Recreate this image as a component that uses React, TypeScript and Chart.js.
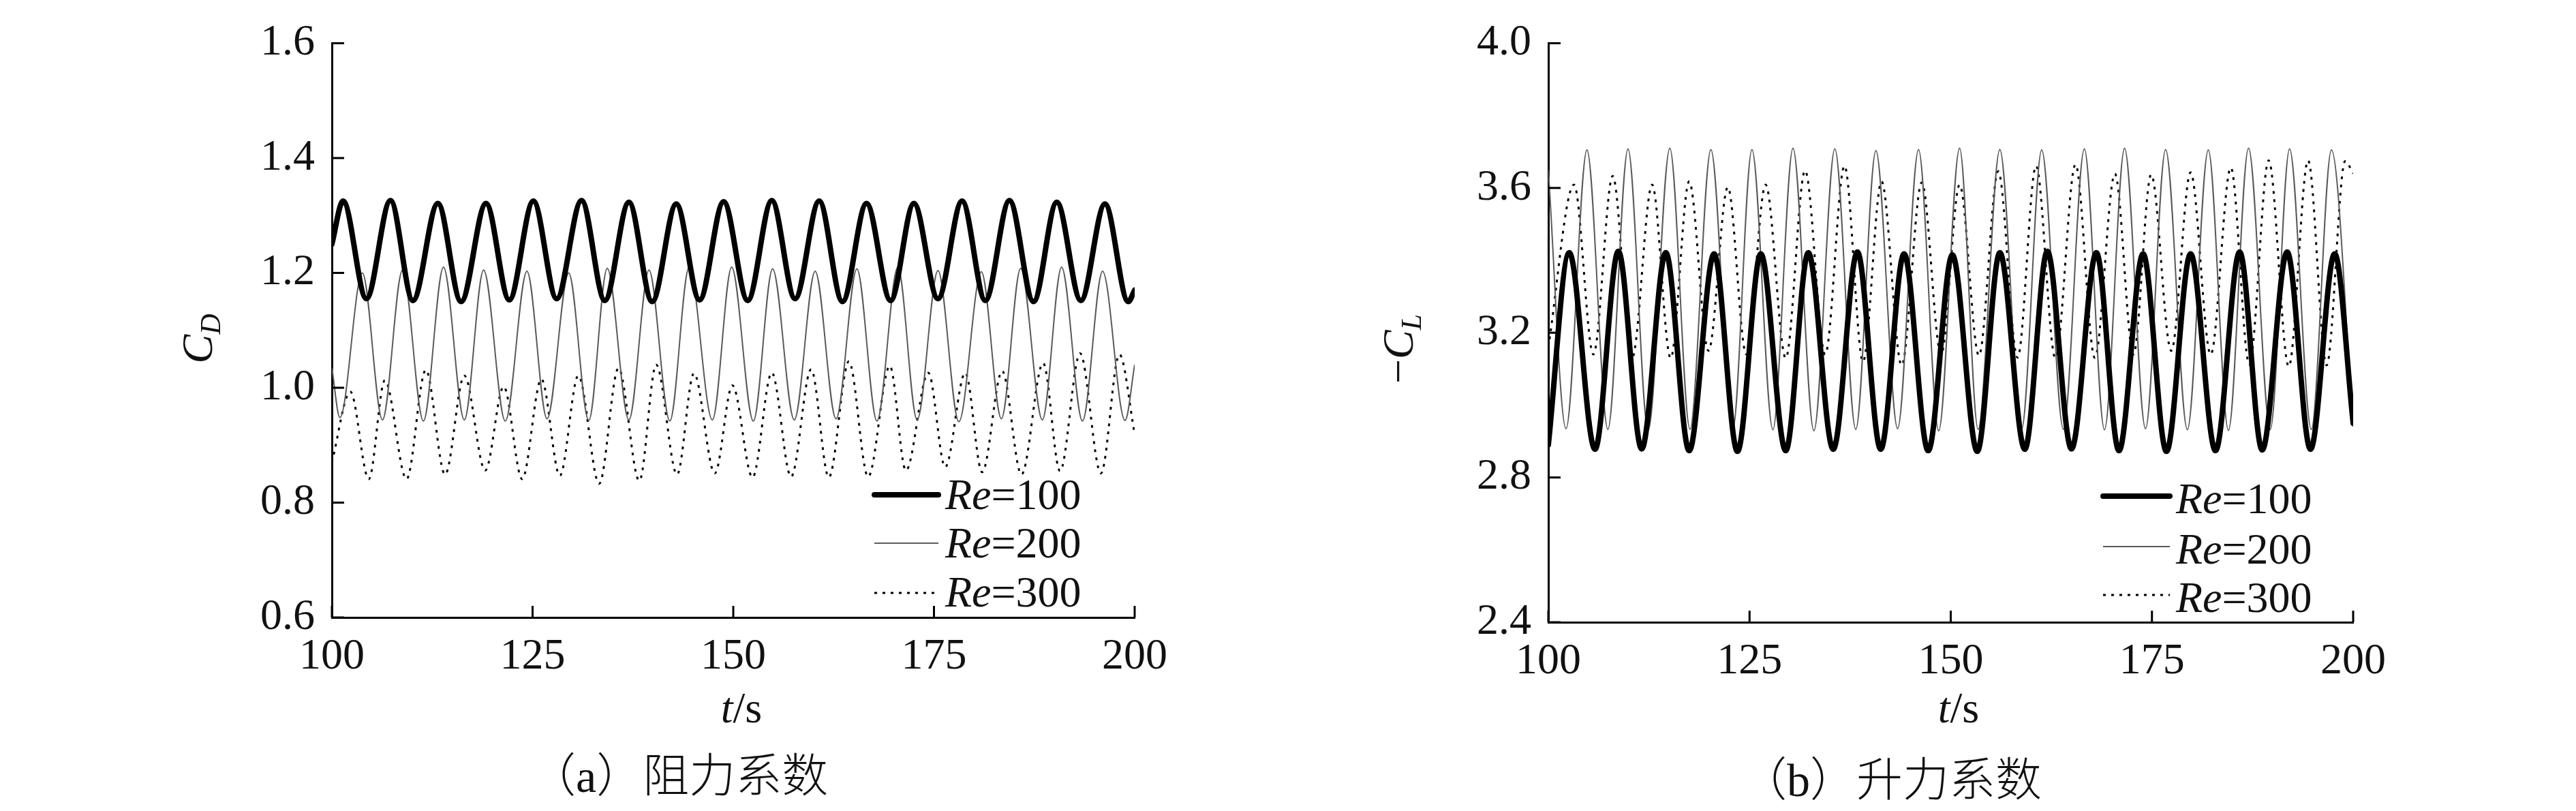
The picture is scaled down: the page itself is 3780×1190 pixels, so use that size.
import React, { useEffect, useRef } from 'react';
import { Chart, registerables } from 'chart.js';

Chart.register(...registerables);

// ---------- data ----------
const xTicks = [100, 125, 150, 175, 200];
const dragTicks = [0.6, 0.8, 1.0, 1.2, 1.4, 1.6];
const liftTicks = [2.4, 2.8, 3.2, 3.6, 4.0];
const reLabels = ['100', '200', '300'];

// (a) drag coefficient C_D
const dragTime100 = [100, 101.4, 104.3, 107.3, 110.1, 113.2, 116.1, 119.2, 122.1, 125.1, 128.0, 131.1, 134.0, 137.0, 139.9, 142.9, 145.8, 148.8, 151.8, 154.8, 157.7, 160.7, 163.6, 166.6, 169.6, 172.5, 175.5, 178.5, 181.4, 184.4, 187.4, 190.3, 193.3, 196.3, 199.2, 200];
const dragRe100 = [1.25, 1.325, 1.155, 1.326, 1.152, 1.321, 1.150, 1.321, 1.153, 1.325, 1.155, 1.326, 1.152, 1.323, 1.150, 1.320, 1.153, 1.324, 1.152, 1.326, 1.155, 1.325, 1.150, 1.321, 1.152, 1.321, 1.155, 1.325, 1.152, 1.326, 1.150, 1.323, 1.152, 1.320, 1.150, 1.17];

const dragTime200 = [100, 101.0, 103.8, 106.3, 108.8, 111.4, 113.9, 116.5, 118.9, 121.6, 124.3, 126.8, 129.5, 132.0, 134.3, 137.0, 139.5, 142.1, 144.5, 147.4, 149.8, 152.5, 154.9, 157.6, 160.2, 162.8, 165.4, 167.9, 170.5, 172.9, 175.5, 178.1, 180.9, 183.4, 185.8, 188.5, 190.9, 193.5, 196.0, 198.8, 200];
const dragRe200 = [1.035, 0.948, 1.200, 0.944, 1.205, 0.942, 1.210, 0.944, 1.205, 0.942, 1.203, 0.946, 1.200, 0.943, 1.208, 0.944, 1.205, 0.942, 1.210, 0.944, 1.210, 0.942, 1.207, 0.944, 1.203, 0.946, 1.207, 0.942, 1.210, 0.944, 1.204, 0.941, 1.202, 0.946, 1.208, 0.944, 1.210, 0.942, 1.203, 0.943, 1.04];

const dragTime300 = [100, 102.3, 104.6, 106.6, 109.3, 111.7, 114.1, 116.5, 119.1, 121.4, 123.7, 126.1, 128.4, 130.7, 133.3, 135.7, 138.3, 140.4, 143.0, 145.1, 147.7, 149.9, 152.4, 154.8, 157.2, 159.7, 161.9, 164.4, 166.8, 169.5, 171.5, 174.3, 176.4, 178.9, 181.0, 183.5, 185.9, 188.6, 190.7, 193.2, 195.8, 198.1, 200];
const dragRe300 = [0.87, 0.993, 0.841, 1.013, 0.841, 1.031, 0.849, 1.021, 0.856, 1.002, 0.841, 1.015, 0.847, 1.021, 0.833, 1.034, 0.838, 1.040, 0.849, 1.025, 0.851, 1.004, 0.844, 1.026, 0.845, 1.032, 0.844, 1.046, 0.845, 1.038, 0.856, 1.026, 0.862, 1.026, 0.853, 1.029, 0.849, 1.043, 0.855, 1.060, 0.851, 1.058, 0.92];

// (b) lift coefficient -C_L
const liftTime100 = [100, 102.6, 105.8, 108.7, 111.6, 114.6, 117.5, 120.6, 123.5, 126.4, 129.5, 132.3, 135.4, 138.4, 141.3, 144.2, 147.2, 150.2, 153.3, 156.1, 159.2, 162.0, 165.0, 168.1, 170.9, 173.9, 176.8, 179.8, 182.9, 185.9, 188.7, 191.8, 194.7, 197.7, 200];
const liftRe100 = [2.89, 3.421, 2.878, 3.425, 2.879, 3.421, 2.874, 3.418, 2.872, 3.418, 2.874, 3.421, 2.878, 3.423, 2.878, 3.418, 2.874, 3.415, 2.872, 3.421, 2.878, 3.425, 2.879, 3.421, 2.874, 3.418, 2.872, 3.418, 2.874, 3.423, 2.876, 3.423, 2.878, 3.418, 2.95];

const liftTime200 = [100, 102.2, 104.8, 107.4, 109.9, 112.4, 115.1, 117.6, 120.2, 122.9, 125.3, 127.9, 130.4, 133.0, 135.6, 138.2, 140.7, 143.4, 146.0, 148.5, 151.1, 153.4, 156.1, 158.8, 161.3, 164.0, 166.6, 169.1, 171.6, 174.2, 176.7, 179.4, 182.0, 184.5, 187.0, 189.7, 192.1, 194.8, 197.3, 200];
const liftRe200 = [3.65, 2.935, 3.705, 2.933, 3.708, 2.930, 3.710, 2.933, 3.706, 2.930, 3.706, 2.932, 3.710, 2.929, 3.708, 2.933, 3.703, 2.935, 3.706, 2.929, 3.710, 2.933, 3.706, 2.933, 3.705, 2.933, 3.708, 2.932, 3.710, 2.935, 3.706, 2.932, 3.705, 2.930, 3.710, 2.933, 3.708, 2.933, 3.705, 2.94];

const liftTime300 = [100, 103.2, 105.6, 108.0, 110.4, 112.9, 115.2, 117.5, 119.9, 122.3, 124.6, 127.0, 129.5, 131.9, 134.4, 136.8, 139.1, 141.4, 143.9, 146.4, 148.8, 151.1, 153.5, 155.9, 158.3, 160.6, 163.0, 165.5, 167.9, 170.4, 172.7, 174.9, 177.4, 179.8, 182.3, 184.8, 187.1, 189.5, 192.0, 194.4, 196.7, 199.0, 200];
const liftRe300 = [3.16, 3.609, 3.14, 3.633, 3.13, 3.609, 3.13, 3.618, 3.15, 3.602, 3.14, 3.609, 3.13, 3.648, 3.14, 3.661, 3.12, 3.618, 3.11, 3.615, 3.14, 3.609, 3.137, 3.646, 3.131, 3.661, 3.13, 3.665, 3.131, 3.639, 3.14, 3.637, 3.15, 3.643, 3.14, 3.656, 3.112, 3.676, 3.107, 3.676, 3.11, 3.674, 3.64];

// ---------- styling ----------
const SERIF = "'Liberation Serif', 'Times New Roman', serif";
const FS = 64;
const lineStyles = [
  { color: '#000000', width: 8, dash: [] as number[], cap: 'round' as CanvasLineCap },
  { color: '#5a5a5a', width: 2, dash: [] as number[], cap: 'butt' as CanvasLineCap },
  { color: '#000000', width: 3, dash: [4, 8], cap: 'butt' as CanvasLineCap },
];

type Part = { text: string; font: string; dy?: number };

function drawRich(ctx: CanvasRenderingContext2D, parts: Part[], x: number, y: number, align: 'left' | 'center') {
  const widths = parts.map((p) => {
    ctx.font = p.font;
    return ctx.measureText(p.text).width;
  });
  const total = widths.reduce((a, b) => a + b, 0);
  let cx = align === 'center' ? x - total / 2 : x;
  ctx.textAlign = 'left';
  ctx.textBaseline = 'alphabetic';
  parts.forEach((p, i) => {
    ctx.font = p.font;
    ctx.fillText(p.text, cx, y + (p.dy || 0));
    cx += widths[i];
  });
}

const it = (s: number) => `italic ${s}px ${SERIF}`;
const rg = (s: number) => `${s}px ${SERIF}`;

const leftPanel = {
  series: [
    [dragTime100, dragRe100],
    [dragTime200, dragRe200],
    [dragTime300, dragRe300],
  ],
  yTicks: dragTicks,
  yMin: 0.6,
  yMax: 1.6,
  padTop: 52,
  padRight: 225,
  yAxisW: 487,
  xAxisH: 284,
  yTitle: [
    { text: 'C', font: it(FS) },
    { text: 'D', font: it(42), dy: 12 },
  ] as Part[],
  yTitlePos: { x: 311, y: 497 },
  xTitlePos: { x: 1088, y: 1060 },
  legend: { x1: 1283, x2: 1377, tx: 1387, rows: [726, 797, 870], base: [747, 818, 890] },
  caption: '（a）阻力系数',
  captionPos: { x: 777, y: 1162 },
};

const rightPanel = {
  series: [
    [liftTime100, liftRe100],
    [liftTime200, liftRe200],
    [liftTime300, liftRe300],
  ],
  yTicks: liftTicks,
  yMin: 2.4,
  yMax: 4.0,
  padTop: 53,
  padRight: 327,
  yAxisW: 382,
  xAxisH: 277,
  yTitle: [
    { text: '−', font: rg(FS) },
    { text: 'C', font: it(FS) },
    { text: 'L', font: it(42), dy: 12 },
  ] as Part[],
  yTitlePos: { x: 2073 - 1890, y: 512 },
  xTitlePos: { x: 2874 - 1890, y: 1060 },
  legend: { x1: 3086 - 1890, x2: 3184 - 1890, tx: 3193 - 1890, rows: [728, 802, 873], base: [753, 827, 898] },
  caption: '（b）升力系数',
  captionPos: { x: 2554 - 1890, y: 1168 },
};

type Panel = typeof leftPanel;

function decorPlugin(p: Panel) {
  return {
    id: 'decor',
    afterDraw(chart: any) {
      const ctx: CanvasRenderingContext2D = chart.ctx;
      const { left, bottom } = chart.chartArea;
      const xs = chart.scales.x;
      const ys = chart.scales.y;
      ctx.save();
      // inward tick marks
      ctx.strokeStyle = '#000';
      ctx.lineWidth = 3;
      ctx.setLineDash([]);
      xTicks.forEach((v) => {
        const px = xs.getPixelForValue(v);
        ctx.beginPath();
        ctx.moveTo(px, bottom);
        ctx.lineTo(px, bottom - 17);
        ctx.stroke();
      });
      p.yTicks.forEach((v) => {
        const py = ys.getPixelForValue(v);
        ctx.beginPath();
        ctx.moveTo(left, py);
        ctx.lineTo(left + 18, py);
        ctx.stroke();
      });
      // legend
      ctx.fillStyle = '#111';
      lineStyles.forEach((s, i) => {
        ctx.save();
        ctx.strokeStyle = s.color;
        ctx.lineWidth = s.width;
        ctx.lineCap = s.cap;
        ctx.setLineDash(s.dash);
        ctx.beginPath();
        ctx.moveTo(p.legend.x1, p.legend.rows[i]);
        ctx.lineTo(p.legend.x2, p.legend.rows[i]);
        ctx.stroke();
        ctx.restore();
        drawRich(ctx, [
          { text: 'Re', font: it(FS) },
          { text: '=' + reLabels[i], font: rg(FS) },
        ], p.legend.tx, p.legend.base[i], 'left');
      });
      // x title
      drawRich(ctx, [
        { text: 't', font: it(FS) },
        { text: '/s', font: rg(FS) },
      ], p.xTitlePos.x, p.xTitlePos.y, 'center');
      // y title (rotated)
      ctx.save();
      ctx.translate(p.yTitlePos.x, p.yTitlePos.y);
      ctx.rotate(-Math.PI / 2);
      drawRich(ctx, p.yTitle, 0, 0, 'center');
      ctx.restore();
      // caption
      ctx.font = `300 68px 'Liberation Serif', 'Noto Sans CJK SC', sans-serif`;
      ctx.textAlign = 'left';
      ctx.textBaseline = 'alphabetic';
      ctx.fillText(p.caption, p.captionPos.x, p.captionPos.y);
      ctx.restore();
    },
  };
}

function makeConfig(p: Panel): any {
  return {
    type: 'line',
    data: {
      datasets: p.series.map(([t, v], i) => ({
        label: 'Re=' + reLabels[i],
        data: t.map((x, k) => ({ x, y: v[k] })),
        borderColor: lineStyles[i].color,
        borderWidth: lineStyles[i].width,
        borderDash: lineStyles[i].dash,
        borderCapStyle: lineStyles[i].cap,
        borderJoinStyle: 'round',
        pointRadius: 0,
        fill: false,
        cubicInterpolationMode: 'monotone',
        clip: 0,
      })),
    },
    options: {
      responsive: false,
      animation: false,
      devicePixelRatio: 1,
      events: [],
      layout: { padding: { top: p.padTop, right: p.padRight, left: 0, bottom: 0 } },
      plugins: { legend: { display: false }, tooltip: { enabled: false }, title: { display: false } },
      scales: {
        x: {
          type: 'linear',
          min: 100,
          max: 200,
          afterBuildTicks: (s: any) => {
            s.ticks = xTicks.map((value) => ({ value }));
          },
          afterFit: (s: any) => {
            s.height = p.xAxisH;
          },
          grid: { display: false, drawTicks: false },
          border: { display: true, color: '#000', width: 3 },
          ticks: {
            padding: 20,
            color: '#111',
            font: { family: SERIF, size: FS },
            maxRotation: 0,
            autoSkip: false,
            callback: (v: any) => String(v),
          },
        },
        y: {
          type: 'linear',
          min: p.yMin,
          max: p.yMax,
          afterBuildTicks: (s: any) => {
            s.ticks = p.yTicks.map((value) => ({ value }));
          },
          afterFit: (s: any) => {
            s.width = p.yAxisW;
          },
          grid: { display: false, drawTicks: false },
          border: { display: true, color: '#000', width: 3 },
          ticks: {
            padding: 25,
            color: '#111',
            font: { family: SERIF, size: FS },
            autoSkip: false,
            callback: (v: any) => Number(v).toFixed(1),
          },
        },
      },
    },
    plugins: [decorPlugin(p)],
  };
}

export default function App() {
  const leftRef = useRef<HTMLCanvasElement>(null);
  const rightRef = useRef<HTMLCanvasElement>(null);
  useEffect(() => {
    const c1 = new Chart(leftRef.current as HTMLCanvasElement, makeConfig(leftPanel));
    const c2 = new Chart(rightRef.current as HTMLCanvasElement, makeConfig(rightPanel));
    return () => {
      c1.destroy();
      c2.destroy();
    };
  }, []);
  return (
    <div style={{ position: 'absolute', left: 0, top: 0, width: 3780, height: 1190, background: '#fff', overflow: 'hidden' }}>
      <canvas ref={leftRef} width={1890} height={1190} style={{ position: 'absolute', left: 0, top: 0 }} />
      <canvas ref={rightRef} width={1890} height={1190} style={{ position: 'absolute', left: 1890, top: 0 }} />
    </div>
  );
}
